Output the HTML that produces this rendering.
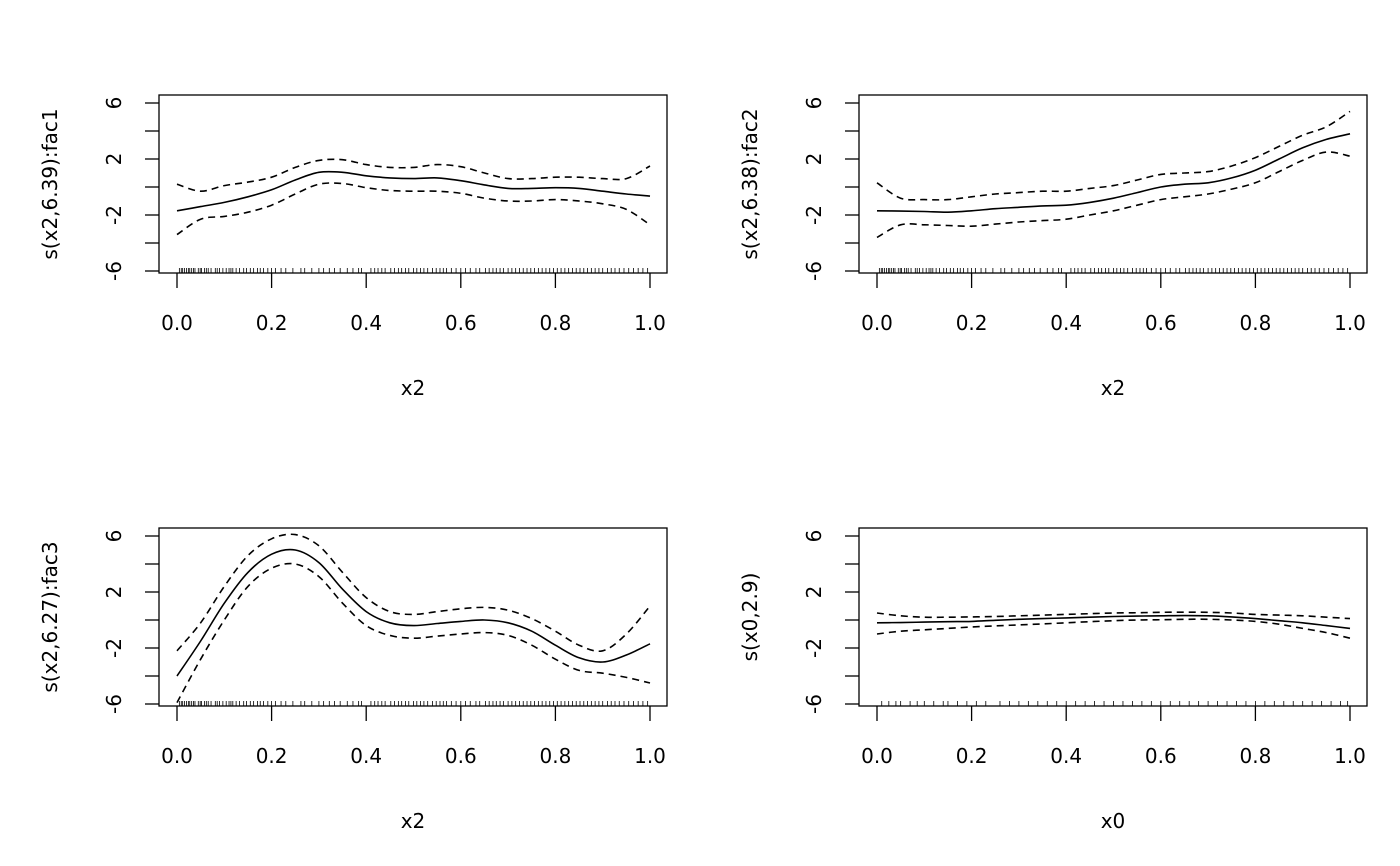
<!DOCTYPE html>
<html><head><meta charset="utf-8"><style>
html,body{margin:0;padding:0;background:#fff;}
svg{display:block;}
text{font-family:"DejaVu Sans","Liberation Sans",sans-serif;font-size:20px;fill:#000;}
</style></head><body>
<svg id="chart" width="1400" height="866" viewBox="0 0 1400 866"></svg>
<script>
const xs = [0,0.05,0.1,0.15,0.2,0.25,0.3,0.35,0.4,0.45,0.5,0.55,0.6,0.65,0.7,0.75,0.8,0.85,0.9,0.95,1.0];
const fit1 = [-1.7,-1.4,-1.1,-0.7,-0.2,0.5,1.05,1.05,0.8,0.65,0.6,0.65,0.45,0.15,-0.1,-0.1,-0.05,-0.1,-0.3,-0.5,-0.65];
const up1  = [0.2,-0.3,0.1,0.35,0.7,1.4,1.9,1.95,1.6,1.4,1.4,1.6,1.45,1.0,0.6,0.6,0.7,0.7,0.6,0.6,1.5];
const lo1  = [-3.4,-2.3,-2.1,-1.8,-1.3,-0.5,0.2,0.25,-0.05,-0.25,-0.3,-0.3,-0.45,-0.8,-1.0,-1.0,-0.9,-1.0,-1.2,-1.6,-2.7];
const fit2 = [-1.7,-1.72,-1.75,-1.8,-1.7,-1.55,-1.45,-1.35,-1.3,-1.1,-0.8,-0.4,0.0,0.2,0.3,0.65,1.2,2.0,2.8,3.4,3.8];
const up2  = [0.3,-0.8,-0.9,-0.9,-0.7,-0.5,-0.4,-0.3,-0.3,-0.1,0.1,0.5,0.9,1.0,1.1,1.5,2.1,2.9,3.7,4.3,5.4];
const lo2  = [-3.6,-2.7,-2.7,-2.75,-2.8,-2.65,-2.5,-2.4,-2.3,-2.0,-1.7,-1.3,-0.9,-0.7,-0.5,-0.15,0.3,1.1,1.9,2.5,2.2];
const fit3 = [-4.0,-1.5,1.2,3.4,4.7,5.0,4.1,2.2,0.6,-0.2,-0.4,-0.25,-0.1,0.0,-0.2,-0.8,-1.8,-2.7,-3.0,-2.5,-1.7];
const up3  = [-2.2,-0.2,2.4,4.6,5.8,6.1,5.3,3.4,1.6,0.6,0.4,0.6,0.8,0.9,0.7,0.1,-0.8,-1.8,-2.2,-1.0,1.0];
const lo3  = [-5.9,-2.8,0.0,2.4,3.7,4.0,3.1,1.2,-0.4,-1.1,-1.3,-1.15,-1.0,-0.9,-1.1,-1.8,-2.8,-3.6,-3.8,-4.1,-4.5];
const fit4 = [-0.2,-0.18,-0.15,-0.12,-0.1,-0.02,0.05,0.1,0.15,0.2,0.25,0.28,0.3,0.32,0.3,0.22,0.1,-0.05,-0.2,-0.4,-0.6];
const up4  = [0.5,0.3,0.2,0.2,0.22,0.25,0.3,0.35,0.4,0.45,0.5,0.52,0.55,0.56,0.55,0.5,0.4,0.35,0.3,0.2,0.1];
const lo4  = [-1.0,-0.8,-0.7,-0.6,-0.5,-0.42,-0.35,-0.28,-0.2,-0.12,-0.05,0.0,0.02,0.05,0.05,0.0,-0.1,-0.3,-0.6,-0.9,-1.3];
const rugA = [0.005,0.009,0.012,0.016,0.02,0.024,0.027,0.031,0.035,0.038,0.045,0.049,0.052,0.058,0.062,0.066,0.072,0.081,0.085,0.09,0.097,0.104,0.11,0.114,0.118,0.125,0.132,0.141,0.147,0.155,0.162,0.17,0.176,0.183,0.192,0.2,0.208,0.22,0.23,0.245,0.262,0.27,0.285,0.3,0.31,0.322,0.333,0.345,0.36,0.372,0.384,0.39,0.41,0.418,0.425,0.433,0.44,0.452,0.46,0.468,0.475,0.483,0.49,0.5,0.507,0.515,0.522,0.53,0.54,0.548,0.556,0.563,0.57,0.58,0.59,0.6,0.61,0.62,0.632,0.64,0.652,0.66,0.668,0.675,0.683,0.69,0.7,0.708,0.716,0.724,0.732,0.74,0.748,0.756,0.764,0.772,0.78,0.788,0.796,0.804,0.812,0.82,0.828,0.836,0.844,0.852,0.86,0.868,0.876,0.884,0.892,0.9,0.91,0.918,0.926,0.935,0.945,0.955,0.965,0.975,0.985,0.995];
const rugB = [0.01,0.025,0.04,0.05,0.07,0.085,0.1,0.12,0.14,0.15,0.17,0.19,0.21,0.23,0.26,0.28,0.3,0.32,0.34,0.36,0.38,0.4,0.42,0.44,0.46,0.48,0.5,0.52,0.54,0.56,0.58,0.6,0.62,0.64,0.66,0.68,0.7,0.72,0.74,0.76,0.78,0.8,0.82,0.84,0.86,0.88,0.9,0.92,0.94,0.96,0.98,0.995];
const yTicks = [-6,-4,-2,0,2,4,6];
const yLabels = [-6,-2,2,6];
const xTicks = [0,0.2,0.4,0.6,0.8,1.0];
const xTickLabels = ["0.0","0.2","0.4","0.6","0.8","1.0"];

const NS="http://www.w3.org/2000/svg";
const svg=document.getElementById('chart');
function mk(tag,attrs,parent){const e=document.createElementNS(NS,tag);for(const k in attrs)e.setAttribute(k,attrs[k]);(parent||svg).appendChild(e);return e;}
function smooth(pts){let d=`M${pts[0][0]},${pts[0][1]}`;for(let i=0;i<pts.length-1;i++){const p0=pts[Math.max(0,i-1)],p1=pts[i],p2=pts[i+1],p3=pts[Math.min(pts.length-1,i+2)];d+=` C${p1[0]+(p2[0]-p0[0])/6},${p1[1]+(p2[1]-p0[1])/6} ${p2[0]-(p3[0]-p1[0])/6},${p2[1]-(p3[1]-p1[1])/6} ${p2[0]},${p2[1]}`;}return d;}

const panels=[
 {L:159,T:95,title:"s(x2,6.39):fac1",xt:"x2",fit:fit1,up:up1,lo:lo1,rug:rugA,n:"fac1"},
 {L:859,T:95,title:"s(x2,6.38):fac2",xt:"x2",fit:fit2,up:up2,lo:lo2,rug:rugA,n:"fac2"},
 {L:159,T:528,title:"s(x2,6.27):fac3",xt:"x2",fit:fit3,up:up3,lo:lo3,rug:rugA,n:"fac3"},
 {L:859,T:528,title:"s(x0,2.9)",xt:"x0",fit:fit4,up:up4,lo:lo4,rug:rugB,n:"x0"}];
panels.forEach(p=>{
 const g=mk('g',{});
 
 
 const W=508,H=178;
 const sx=v=>p.L+18+v*473;
 const sy=v=>p.T+92-v*14;
 const box=mk('rect',{x:p.L,y:p.T,width:W,height:H,fill:'none',stroke:'#000','stroke-width':1.3},g);
 
 
 yTicks.forEach(t=>{const l=mk('line',{x1:p.L-14,x2:p.L,y1:sy(t),y2:sy(t),stroke:'#000','stroke-width':1.3},g);
  
  });
 yLabels.forEach(t=>{const tx=mk('text',{x:0,y:0,transform:`translate(${p.L-45},${sy(t)}) rotate(-90)`,'text-anchor':'middle','dominant-baseline':'central'},g);tx.textContent=String(t);
  
  });
 xTicks.forEach((t,i)=>{const l=mk('line',{x1:sx(t),x2:sx(t),y1:p.T+H,y2:p.T+H+15,stroke:'#000','stroke-width':1.3},g);
  
  
  const tx=mk('text',{x:sx(t),y:p.T+H+57,'text-anchor':'middle'},g);tx.textContent=xTickLabels[i];
  
  });
 const yt=mk('text',{transform:`translate(${p.L-109},${p.T+H/2}) rotate(-90)`,'text-anchor':'middle','dominant-baseline':'central'},g);yt.textContent=p.title;
 
 
 const xt=mk('text',{x:p.L+W/2,y:p.T+H+122,'text-anchor':'middle'},g);xt.textContent=p.xt;
 
 
 let rd='';p.rug.forEach(v=>{rd+=`M${sx(v)},${p.T+H-5}V${p.T+H}`;});
 const rug=mk('path',{d:rd,stroke:'#000','stroke-width':0.8,fill:'none'},g);
 
 
 [['fit',p.fit,null],['upper-ci',p.up,'7,5'],['lower-ci',p.lo,'7,5']].forEach(([nm,arr,da])=>{
  const pts=xs.map((x,i)=>[sx(x),sy(arr[i])]);
  const a={d:smooth(pts),fill:'none',stroke:'#000','stroke-width':1.6};if(da)a['stroke-dasharray']=da;
  const path=mk('path',a,g);
  
  });
});
</script>
</body></html>
